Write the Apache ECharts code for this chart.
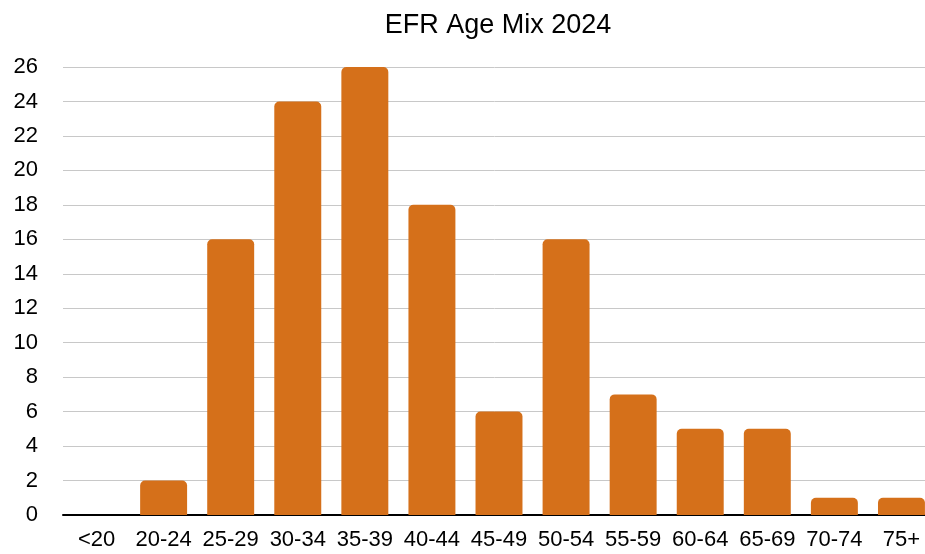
<!DOCTYPE html>
<html><head><meta charset="utf-8">
<script src="https://cdn.jsdelivr.net/npm/echarts@6/dist/echarts.min.js"></script>
<style>html,body{margin:0;padding:0;background:#fff}#c{width:925px;height:554px}</style>
</head><body><div id="c"></div>
<script>
const categories = ['<20','20-24','25-29','30-34','35-39','40-44','45-49','50-54','55-59','60-64','65-69','70-74','75+'];
const counts = [0,2,16,24,26,18,6,16,7,5,5,1,1];
const yTicks = {min:0,max:26,interval:2};
const FONT = 'Liberation Sans, Arial, sans-serif';
const chart = echarts.init(document.getElementById('c'));
chart.setOption({
  animation:false,
  title:{text:'EFR Age Mix 2024',left:493,top:7,textAlign:'center',
    textStyle:{fontFamily:FONT,fontSize:27,fontWeight:'normal',color:'#000'}},
  grid:{left:63,right:-10,top:67,bottom:39,containLabel:false,outerBoundsMode:'none'},
  xAxis:{type:'category',data:categories,
    axisLine:{lineStyle:{color:'#000',width:2}},axisTick:{show:false},
    axisLabel:{color:'#000',fontSize:22,fontFamily:FONT,margin:14,interval:0}},
  yAxis:{type:'value',min:yTicks.min,max:yTicks.max,interval:yTicks.interval,
    axisLine:{show:false},axisTick:{show:false},
    splitLine:{lineStyle:{color:'#c8c8c8',width:1}},
    axisLabel:{color:'#000',fontSize:22,fontFamily:FONT,margin:25}},
  series:[{type:'bar',data:counts,barWidth:'70%',
    itemStyle:{color:'#D5701A',borderRadius:[5,5,0,0]}}]
});
</script></body></html>
